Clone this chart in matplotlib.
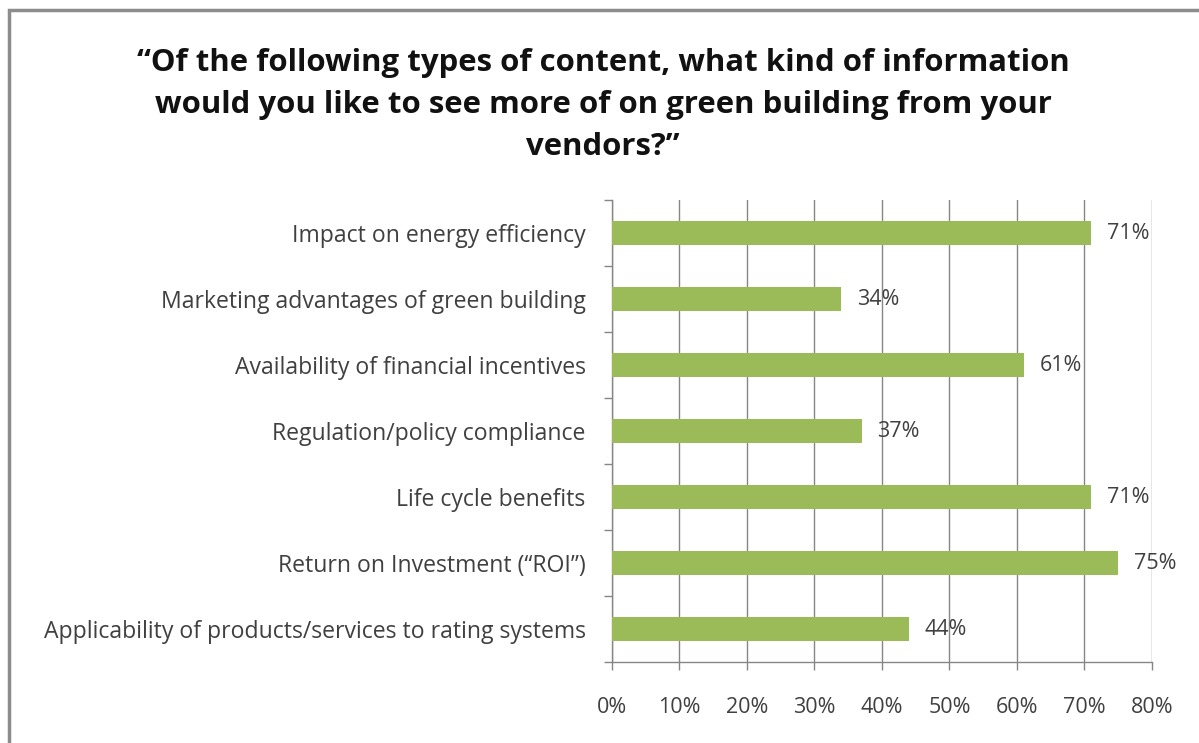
import matplotlib.pyplot as plt
from matplotlib.patches import Rectangle
from matplotlib.ticker import FixedLocator

plt.rcParams['font.family'] = ['Open Sans', 'DejaVu Sans']

categories = [
    "Impact on energy efficiency",
    "Marketing advantages of green building",
    "Availability of financial incentives",
    "Regulation/policy compliance",
    "Life cycle benefits",
    "Return on Investment (\u201cROI\u201d)",
    "Applicability of products/services to rating systems",
]
values = [71, 34, 61, 37, 71, 75, 44]
xticks = [0, 10, 20, 30, 40, 50, 60, 70, 80]

title = ("\u201cOf the following types of content, what kind of information\n"
         "would you like to see more of on green building from your\n"
         "vendors?\u201d")

bar_color = "#9bbb59"
text_color = "#404040"
axis_color = "#868686"

fig = plt.figure(figsize=(11.99, 7.43), dpi=100)
ax = fig.add_axes([0.5104, 0.109, 0.4504, 0.6218])

ypos = list(range(len(categories)))
ax.barh(ypos, values, height=0.37, color=bar_color, zorder=3)
ax.set_ylim(len(categories) - 0.5, -0.5)
ax.set_xlim(0, 80)

for y, v in zip(ypos, values):
    ax.text(v + 2.3, y, f"{v}%", va="center", ha="left",
            fontsize=15.5, color=text_color, zorder=4)

ax.set_yticks(ypos)
ax.set_yticklabels(categories, fontsize=16.6, color=text_color)
ax.tick_params(axis="y", which="major", length=0, pad=19)
ax.yaxis.set_minor_locator(FixedLocator([i - 0.5 for i in range(len(categories) + 1)]))
ax.tick_params(axis="y", which="minor", length=6, color=axis_color, width=1)

ax.set_xticks(xticks)
ax.set_xticklabels([f"{t}%" for t in xticks], fontsize=15.5, color=text_color)
ax.tick_params(axis="x", length=6, color=axis_color, width=1, pad=19)
ax.grid(axis="x", color=axis_color, linewidth=1, zorder=0)

for side in ("top", "right"):
    ax.spines[side].set_visible(False)
for side in ("left", "bottom"):
    ax.spines[side].set_color(axis_color)
    ax.spines[side].set_linewidth(1)

fig.text(0.503, 0.936, title, ha="center", va="top", fontsize=22.4,
         fontweight="bold", color="#111111", linespacing=1.53)

# chart frame: only the top and left edges fall inside the image
fig.patches.append(Rectangle((0.0075, -0.1), 1.2, 1.0865, transform=fig.transFigure,
                             fill=False, edgecolor="#8c8c8c", linewidth=2.5))

fig.savefig("out.png", dpi=100)
